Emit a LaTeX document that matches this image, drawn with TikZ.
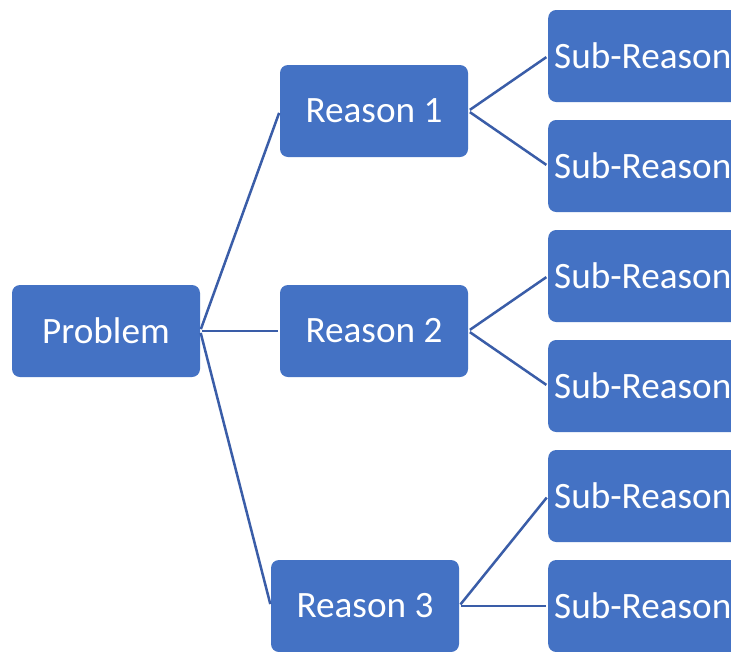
\documentclass[tikz,border=0pt]{standalone}
\usepackage{fontspec}
\setmainfont{Carlito}
\definecolor{boxblue}{HTML}{4472C4}
\definecolor{linkblue}{HTML}{3A5DA8}
\begin{document}
\begin{tikzpicture}[x=1pt,y=-1pt,
  box/.style={fill=boxblue, rounded corners=8pt, text=white, inner sep=0pt,
    minimum width=188pt, minimum height=92pt,
    font=\fontsize{37.2}{44}\selectfont},
  subbox/.style={fill=boxblue, rounded corners=8pt, text=white, anchor=west,
    inner xsep=6pt, inner ysep=0pt, text width=228pt, align=left,
    minimum height=92pt, font=\fontsize{37.2}{44}\selectfont},
  link/.style={draw=linkblue, line width=2.5pt, shorten <=2pt, shorten >=2pt}]
\useasboundingbox[fill=white] (0,0) rectangle (731,651);
\clip (0,0) rectangle (731,651);

% main cause and first-level reasons
\node[box] (p)  at (106,331) {Problem};
\node[box] (r1) at (374,111) {Reason 1};
\node[box] (r2) at (374,331) {Reason 2};
\node[box] (r3) at (365,606) {Reason 3};

% second-level reasons
\node[subbox] (s1) at (548,56)  {Sub-Reason};
\node[subbox] (s2) at (548,166) {Sub-Reason};
\node[subbox] (s3) at (548,276) {Sub-Reason};
\node[subbox] (s4) at (548,386) {Sub-Reason};
\node[subbox] (s5) at (548,496) {Sub-Reason};
\node[subbox] (s6) at (548,606) {Sub-Reason};

% connectors
\draw[link] (p.east) -- (r1.west);
\draw[link] (p.east) -- (r2.west);
\draw[link] (p.east) -- (r3.west);
\draw[link] (r1.east) -- (s1.west);
\draw[link] (r1.east) -- (s2.west);
\draw[link] (r2.east) -- (s3.west);
\draw[link] (r2.east) -- (s4.west);
\draw[link] (r3.east) -- (s5.west);
\draw[link] (r3.east) -- (s6.west);
\end{tikzpicture}
\end{document}
